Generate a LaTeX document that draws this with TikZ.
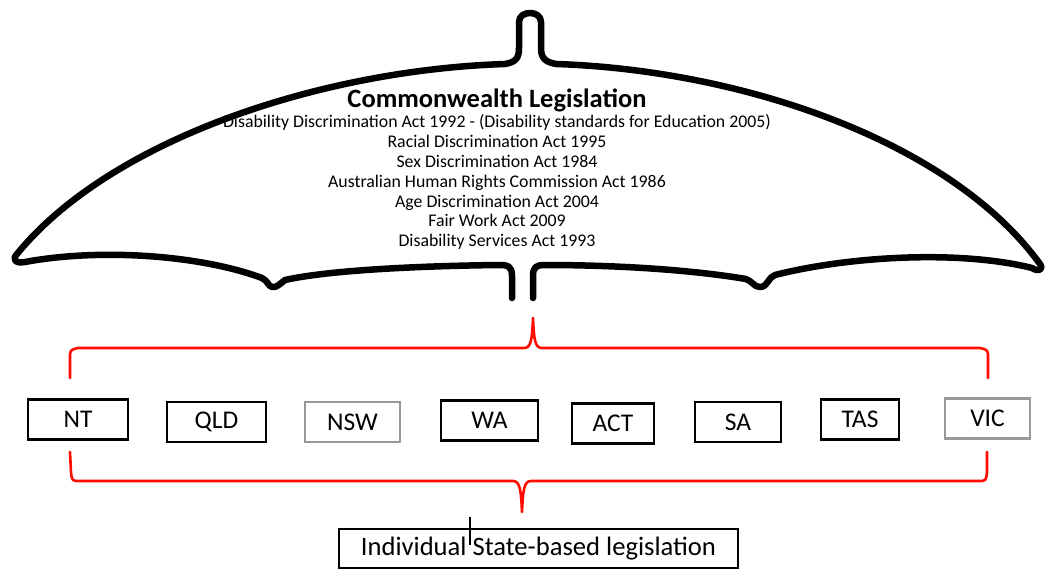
\documentclass[tikz,border=0pt]{standalone}
\usepackage{fontspec}
\setmainfont{Carlito}
\begin{document}
\begin{tikzpicture}[x=1pt,y=-1pt,
  canopy/.style={line width=6.5pt,line join=round,line cap=round},
  brace/.style={draw=red!90!orange,line width=2.6pt,line join=round,line cap=round},
  statebox/.style={draw=black,line width=2.4pt,minimum width=#1,minimum height=40pt,inner sep=0pt,font=\fontsize{25.5}{28}\selectfont},
  greybox/.style={statebox=#1,draw=gray!80},
  acttext/.style={anchor=base,font=\fontsize{17.8}{20}\selectfont}]
\useasboundingbox (0,0) rectangle (1046,569);

% umbrella outline
\draw[canopy]
  (512,298) -- (512,276) .. controls (512,266) and (508,265) .. (498,265)
  .. controls (420,266) and (330,270) .. (285,280)
  .. controls (280,284) and (276,288) .. (272,287)
  .. controls (268,286) and (268,281) .. (262,278)
  .. controls (200,255) and (100,248) .. (25,262)
  .. controls (15,264) and (12,259) .. (17,254)
  .. controls (110,140) and (320,70) .. (505,64)
  .. controls (516,62) and (519,58) .. (519,48)
  -- (519,22) .. controls (519,10) and (541,10) .. (541,22)
  -- (541,48) .. controls (541,58) and (545,62) .. (556,64)
  .. controls (740,70) and (950,140) .. (1040,264)
  .. controls (1044,270) and (1038,272) .. (1032,268)
  .. controls (960,250) and (850,256) .. (775,275)
  .. controls (768,277) and (768,287) .. (760,287)
  .. controls (754,287) and (752,281) .. (746,279)
  .. controls (680,268) and (600,265) .. (545,265)
  .. controls (536,265) and (533,267) .. (533,276) -- (533,298);

% commonwealth acts
\node[anchor=base,font=\bfseries\fontsize{26.5}{30}\selectfont] (title) at (497,108) {Commonwealth Legislation};
\node[acttext] (dda) at (497,128) {Disability Discrimination Act 1992 - (Disability standards for Education 2005)};
\node[acttext] (rda) at (497,148) {Racial Discrimination Act 1995};
\node[acttext] (sda) at (497,168) {Sex Discrimination Act 1984};
\node[acttext] (ahrc) at (497,188) {Australian Human Rights Commission Act 1986};
\node[acttext] (ada) at (497,208) {Age Discrimination Act 2004};
\node[acttext] (fwa) at (497,227) {Fair Work Act 2009};
\node[acttext] (dsa) at (497,247) {Disability Services Act 1993};

% upper brace
\coordinate (ul) at (70,378);
\coordinate (ur) at (988,378);
\coordinate (utip) at (533,318);
\draw[brace] (ul) -- (70,358) .. controls (70,350) .. (78,348) -- (524,348)
  .. controls (531,348) and (532,340) .. (utip)
  .. controls (534,340) and (535,348) .. (542,348) -- (980,348)
  .. controls (988,350) .. (988,358) -- (ur);

% state and territory boxes
\node[statebox=100pt] (nt)  at (78,419.5)  {NT};
\node[statebox=99pt]  (qld) at (216.5,422) {QLD};
\node[greybox=95pt]   (nsw) at (352.5,422) {NSW};
\node[statebox=97pt]  (wa)  at (489.5,420.5) {WA};
\node[statebox=82pt]  (act) at (613,423.5) {ACT};
\node[statebox=86pt]  (sa)  at (738,422)   {SA};
\node[statebox=78pt]  (tas) at (860,419.5) {TAS};
\node[greybox=85pt]   (vic) at (987.5,418.5) {VIC};

% lower brace
\coordinate (ll) at (70,452);
\coordinate (lr) at (987,452);
\coordinate (ltip) at (522,512);
\draw[brace] (ll) -- (71,472) .. controls (72,481) .. (80,481) -- (513,481)
  .. controls (520,481) and (521,490) .. (ltip)
  .. controls (523,490) and (524,481) .. (531,481) -- (978,481)
  .. controls (986,481) .. (987,472) -- (lr);

% state legislation box
\node[draw=black,line width=1.8pt,minimum width=399pt,minimum height=39pt,inner sep=0pt,
      font=\fontsize{26.6}{30}\selectfont] (state) at (538.5,548.5) {Individual State-based legislation};
\coordinate (mark) at (470,517);
\draw[line width=1.2pt] (mark) -- (470,545);
\end{tikzpicture}
\end{document}
